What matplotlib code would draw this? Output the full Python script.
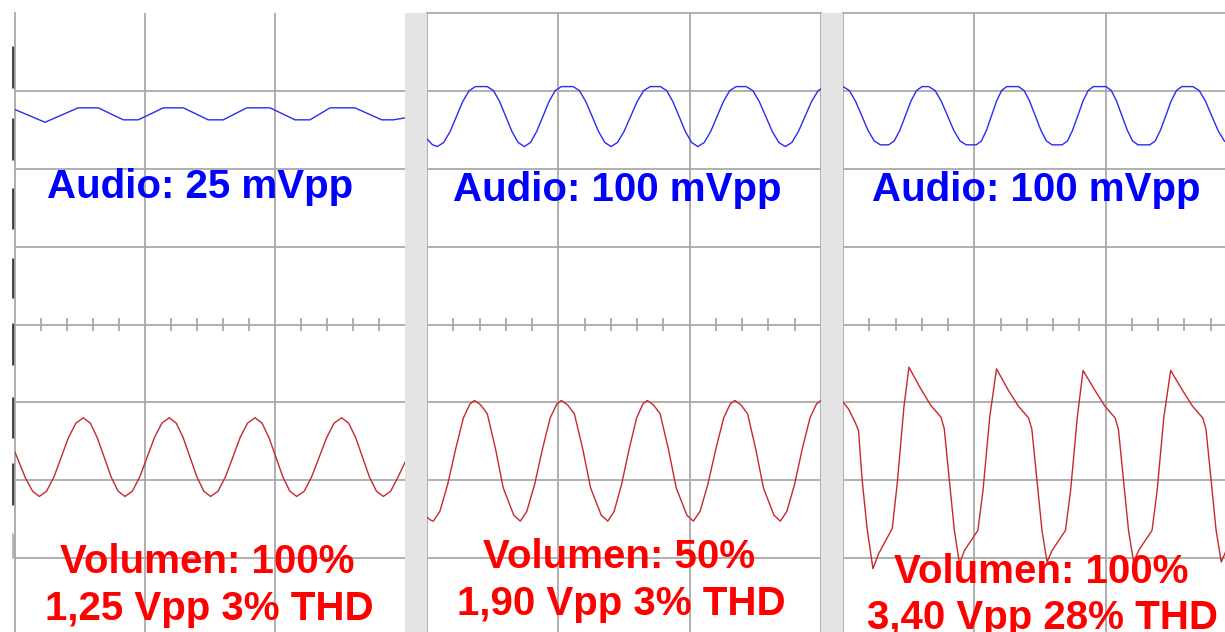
import numpy as np
import matplotlib
matplotlib.use("Agg")
import matplotlib.pyplot as plt
from matplotlib.patches import Rectangle

# time in screen divisions, values in vertical divisions (centre line = 0)
p1_audio_t = [0.000, 0.231, 0.485, 0.641, 0.833, 0.948, 1.141, 1.295, 1.487, 1.602,
              1.782, 1.962, 2.154, 2.269, 2.423, 2.615, 2.821, 2.910, 3.000]
p1_audio_v = [2.760, 2.597, 2.782, 2.782, 2.628, 2.628, 2.782, 2.782, 2.628, 2.628,
              2.782, 2.782, 2.628, 2.628, 2.782, 2.782, 2.628, 2.628, 2.653]

p1_out_t = [0.000, 0.080, 0.135, 0.187,
            0.243, 0.300, 0.356, 0.412, 0.469, 0.525,
            0.579, 0.632, 0.686, 0.739, 0.793, 0.846,
            0.903, 0.960, 1.017, 1.073, 1.130, 1.187,
            1.240, 1.293, 1.346, 1.399, 1.452, 1.505,
            1.562, 1.619, 1.676, 1.732, 1.789, 1.846,
            1.900, 1.953, 2.007, 2.060, 2.114, 2.167,
            2.225, 2.282, 2.340, 2.398, 2.455, 2.513,
            2.566, 2.620, 2.673, 2.726, 2.780, 2.833,
            2.890, 2.947, 3.000]
p1_out_v = [-1.640, -1.970, -2.140, -2.208,
            -2.140, -1.956, -1.703, -1.450, -1.266, -1.198,
            -1.266, -1.450, -1.703, -1.956, -2.140, -2.208,
            -2.140, -1.956, -1.703, -1.450, -1.266, -1.198,
            -1.266, -1.450, -1.703, -1.956, -2.140, -2.208,
            -2.140, -1.956, -1.703, -1.450, -1.266, -1.198,
            -1.266, -1.450, -1.703, -1.956, -2.140, -2.208,
            -2.140, -1.956, -1.703, -1.450, -1.266, -1.198,
            -1.266, -1.450, -1.703, -1.956, -2.140, -2.208,
            -2.140, -1.956, -1.770]

p2_audio_t = [0.000, 0.040, 0.079,
              0.127, 0.176, 0.224, 0.272, 0.321, 0.369, 0.459,
              0.506, 0.553, 0.600, 0.647, 0.694, 0.741,
              0.788, 0.835, 0.882, 0.929, 0.976, 1.023, 1.113,
              1.161, 1.209, 1.258, 1.306, 1.354, 1.402,
              1.450, 1.500, 1.550, 1.600, 1.650, 1.700, 1.777,
              1.825, 1.872, 1.920, 1.967, 2.015, 2.062,
              2.111, 2.160, 2.208, 2.257, 2.305, 2.354, 2.431,
              2.481, 2.530, 2.580, 2.629, 2.679, 2.728,
              2.778, 2.828, 2.878, 2.928, 2.978, 3.028]
p2_audio_v = [2.384, 2.310, 2.285,
              2.337, 2.478, 2.670, 2.863, 3.003, 3.055, 3.055,
              3.003, 2.863, 2.670, 2.478, 2.337, 2.285,
              2.337, 2.478, 2.670, 2.863, 3.003, 3.055, 3.055,
              3.003, 2.863, 2.670, 2.478, 2.337, 2.285,
              2.337, 2.478, 2.670, 2.863, 3.003, 3.055, 3.055,
              3.003, 2.863, 2.670, 2.478, 2.337, 2.285,
              2.337, 2.478, 2.670, 2.863, 3.003, 3.055, 3.055,
              3.003, 2.863, 2.670, 2.478, 2.337, 2.285,
              2.337, 2.478, 2.670, 2.863, 3.003, 3.055]

p2_out_t = [0.000, 0.025, 0.048,
            0.098, 0.158, 0.218, 0.277, 0.327, 0.362,
            0.407, 0.459, 0.522, 0.581, 0.661, 0.710,
            0.760, 0.820, 0.879, 0.938, 0.989, 1.023,
            1.069, 1.122, 1.186, 1.246, 1.327, 1.377,
            1.425, 1.482, 1.539, 1.596, 1.644, 1.677,
            1.723, 1.775, 1.838, 1.898, 1.979, 2.028,
            2.079, 2.139, 2.199, 2.259, 2.309, 2.344,
            2.389, 2.441, 2.503, 2.562, 2.642, 2.690,
            2.740, 2.799, 2.857, 2.916, 2.966, 3.000]
p2_out_v = [-2.474, -2.510, -2.525,
            -2.400, -2.050, -1.600, -1.200, -1.020, -0.976,
            -1.030, -1.146, -1.600, -2.100, -2.450, -2.525,
            -2.400, -2.050, -1.600, -1.200, -1.020, -0.976,
            -1.030, -1.146, -1.600, -2.100, -2.450, -2.525,
            -2.400, -2.050, -1.600, -1.200, -1.020, -0.976,
            -1.030, -1.146, -1.600, -2.100, -2.450, -2.525,
            -2.400, -2.050, -1.600, -1.200, -1.020, -0.976,
            -1.030, -1.146, -1.600, -2.100, -2.450, -2.525,
            -2.400, -2.050, -1.600, -1.200, -1.020, -0.976]

p3_audio_t = [0.000,
              0.048, 0.095, 0.143, 0.190, 0.238, 0.285, 0.348,
              0.390, 0.433, 0.475, 0.517, 0.560, 0.602, 0.653,
              0.701, 0.748, 0.796, 0.843, 0.891, 0.938, 1.015,
              1.054, 1.092, 1.131, 1.169, 1.208, 1.246, 1.336,
              1.379, 1.421, 1.464, 1.507, 1.549, 1.592, 1.669,
              1.709, 1.748, 1.788, 1.827, 1.867, 1.906, 2.002,
              2.043, 2.083, 2.124, 2.165, 2.205, 2.246, 2.336,
              2.377, 2.417, 2.458, 2.498, 2.539, 2.579, 2.664,
              2.712, 2.760, 2.807, 2.855, 2.903, 2.950]
p3_audio_v = [3.055,
              3.005, 2.868, 2.681, 2.494, 2.357, 2.307, 2.307,
              2.357, 2.494, 2.681, 2.868, 3.005, 3.055, 3.055,
              3.005, 2.868, 2.681, 2.494, 2.357, 2.307, 2.307,
              2.357, 2.494, 2.681, 2.868, 3.005, 3.055, 3.055,
              3.005, 2.868, 2.681, 2.494, 2.357, 2.307, 2.307,
              2.357, 2.494, 2.681, 2.868, 3.005, 3.055, 3.055,
              3.005, 2.868, 2.681, 2.494, 2.357, 2.307, 2.307,
              2.357, 2.494, 2.681, 2.868, 3.005, 3.055, 3.055,
              3.005, 2.868, 2.681, 2.494, 2.357, 2.307]

p3_out_t = [0.000, 0.041, 0.092, 0.118, 0.144, 0.182, 0.228, 0.272, 0.375, 0.413, 0.464, 0.502,
            0.592, 0.669, 0.746, 0.771, 0.810, 0.848, 0.887, 0.925, 1.027, 1.066, 1.117, 1.169,
            1.259, 1.336, 1.413, 1.438, 1.477, 1.515, 1.554, 1.592, 1.694, 1.733, 1.784, 1.828,
            1.918, 1.995, 2.072, 2.097, 2.136, 2.174, 2.213, 2.251, 2.353, 2.392, 2.443, 2.495,
            2.585, 2.662, 2.739, 2.764, 2.803, 2.841, 2.880, 2.918, 3.020]
p3_out_v = [-0.997, -1.082, -1.254, -1.361, -1.960, -2.602, -3.136, -2.940, -2.619, -2.041, -1.058, -0.548,
            -0.825, -1.040, -1.190, -1.339, -2.003, -2.644, -3.072, -2.901, -2.644, -2.131, -1.190, -0.569,
            -0.845, -1.050, -1.200, -1.345, -2.003, -2.644, -3.050, -2.901, -2.644, -2.131, -1.190, -0.590,
            -0.845, -1.050, -1.200, -1.345, -2.003, -2.644, -3.050, -2.901, -2.644, -2.131, -1.190, -0.590,
            -0.845, -1.050, -1.200, -1.345, -2.003, -2.644, -3.050, -2.901, -2.644]

audio_labels = ["Audio: 25 mVpp", "Audio: 100 mVpp", "Audio: 100 mVpp"]
volume_labels = ["Volumen: 100%", "Volumen: 50%", "Volumen: 100%"]
result_labels = ["1,25 Vpp 3% THD", "1,90 Vpp 3% THD", "3,40 Vpp 28% THD"]

# scale marks at the left edge of the first screen (bottom, top)
mark_lo = [3.042, 2.118, 1.232, 0.334, -0.526, -1.463, -2.323]
mark_hi = [3.582, 2.657, 1.759, 0.860, 0.013, -0.937, -1.784]

W, H = 1225, 632
GRID = "#a9a9a9"
BLUE_W = "#2a2af5"
RED_W = "#c8282c"
FONT = ["Liberation Sans", "DejaVu Sans"]

fig = plt.figure(figsize=(W / 100, H / 100), dpi=100)
fig.patch.set_facecolor("white")

lefts = [15, 427, 843]
widths = [390, 394, 394]
top, bottom = 13, 636
audio_xy = [(1.423, 1.630), (1.451, 1.592), (1.470, 1.592)]
vol_xy = [(1.481, -3.196), (1.466, -3.132), (1.512, -3.325)]
res_xy = [(1.492, -3.800), (1.478, -3.736), (1.520, -3.915)]
waves = [(p1_audio_t, p1_audio_v, p1_out_t, p1_out_v),
         (p2_audio_t, p2_audio_v, p2_out_t, p2_out_v),
         (p3_audio_t, p3_audio_v, p3_out_t, p3_out_v)]
minor = [x for x in np.arange(0.2, 3.0, 0.2) if abs(x - round(x)) > 0.05]

for i in range(3):
    ax = fig.add_axes([lefts[i] / W, (H - bottom) / H, widths[i] / W, (bottom - top) / H])
    ax.set_xlim(0, 3)
    ax.set_ylim(-4, 4)
    ax.set_xticks([1, 2])
    ax.set_yticks([-3, -2, -1, 0, 1, 2, 3])
    ax.grid(True, color=GRID, lw=1.3)
    ax.set_axisbelow(True)
    ax.tick_params(length=0, labelleft=False, labelbottom=False)
    for s in ax.spines.values():
        s.set_color(GRID)
        s.set_linewidth(1.3)
        s.set_visible(False)
    ax.spines["left"].set_visible(True)
    if i > 0:
        ax.spines["top"].set_visible(True)
    if i == 1:
        ax.spines["right"].set_visible(True)
    ax.vlines(minor, -0.08, 0.08, color=GRID, lw=1.3)

    at, av, ot, ov = waves[i]
    ax.plot(at, av, color=BLUE_W, lw=1.0, zorder=3)
    ax.plot(ot, ov, color=RED_W, lw=1.0, zorder=3)

    ax.text(*audio_xy[i], audio_labels[i], ha="center", va="baseline", fontsize=29,
            fontweight="bold", family=FONT, color="#0000ff", zorder=5)
    ax.text(*vol_xy[i], volume_labels[i], ha="center", va="baseline", fontsize=29,
            fontweight="bold", family=FONT, color="#ff0000", zorder=5)
    ax.text(*res_xy[i], result_labels[i], ha="center", va="baseline", fontsize=29,
            fontweight="bold", family=FONT, color="#ff0000", zorder=5)

    if i == 0:
        ax.vlines([-0.019] * len(mark_lo), mark_lo, mark_hi, color="#3a3a3a", lw=2.0,
                  clip_on=False)
        ax.vlines([-0.019], [-3.004], [-2.683], color="#b5b5b5", lw=2.0, clip_on=False)

# grey separators between the screens
for x0 in (405, 821):
    fig.add_artist(Rectangle((x0 / W, 0), 21.5 / W, (H - top) / H,
                             transform=fig.transFigure, facecolor="#e4e4e4",
                             edgecolor="none", zorder=2))

fig.savefig("out.png", dpi=100)
